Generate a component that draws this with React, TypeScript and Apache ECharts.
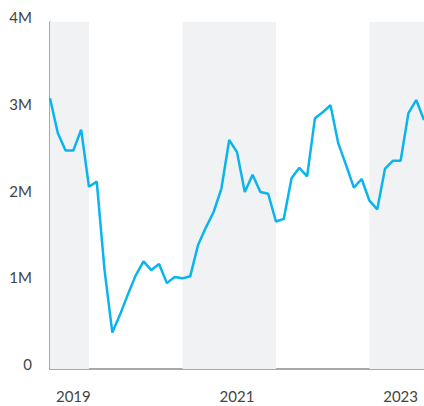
import React, { useEffect, useRef } from "react";
import * as echarts from "echarts";

const months: string[] = [
  "2019-08","2019-09","2019-10","2019-11","2019-12",
  "2020-01","2020-02","2020-03","2020-04","2020-05","2020-06","2020-07","2020-08","2020-09","2020-10","2020-11","2020-12",
  "2021-01","2021-02","2021-03","2021-04","2021-05","2021-06","2021-07","2021-08","2021-09","2021-10","2021-11","2021-12",
  "2022-01","2022-02","2022-03","2022-04","2022-05","2022-06","2022-07","2022-08","2022-09","2022-10","2022-11","2022-12",
  "2023-01","2023-02","2023-03","2023-04","2023-05","2023-06","2023-07","2023-08",
];

const values: number[] = [
  3.12, 2.72, 2.52, 2.52, 2.76, 2.10, 2.16, 1.14, 0.42, 0.63, 0.86, 1.08, 1.24, 1.14, 1.21, 0.99,
  1.06, 1.045, 1.07, 1.43, 1.63, 1.81, 2.08, 2.64, 2.50, 2.04, 2.24, 2.04, 2.02, 1.70,
  1.73, 2.20, 2.32, 2.22, 2.89, 2.96, 3.04, 2.60, 2.35, 2.09, 2.19, 1.94, 1.84, 2.31,
  2.40, 2.40, 2.95, 3.10, 2.87,
].map((v) => v * 1e6);

const shadedRanges: [string, string][] = [
  ["2019-08", "2020-01"],
  ["2021-01", "2022-01"],
  ["2023-01", "2023-08"],
];

const labelMonths: string[] = ["2019-11", "2021-08", "2023-05"];

const yTicks = { min: 0, max: 4e6, interval: 1e6 };

export default function App() {
  const ref = useRef<HTMLDivElement>(null);
  useEffect(() => {
    document.body.style.margin = "0";
    const chart = echarts.init(ref.current!, undefined, { renderer: "svg" });
    const font = "Lato";
    chart.setOption({
      animation: false,
      grid: { left: 50, top: 22, right: 0, bottom: 37 },
      xAxis: {
        type: "category",
        data: months,
        boundaryGap: false,
        axisLine: { lineStyle: { color: "#8c8c8c", width: 1.5 } },
        axisTick: { show: false },
        axisLabel: {
          interval: (idx: number, val: string) => labelMonths.includes(val),
          formatter: (val: string) => val.slice(0, 4),
          color: "#444",
          fontFamily: font,
          fontSize: 15,
          margin: 19,
        },
        splitLine: { show: false },
      },
      yAxis: {
        type: "value",
        min: yTicks.min,
        max: yTicks.max,
        interval: yTicks.interval,
        axisLine: { show: true, lineStyle: { color: "#8c8c8c", width: 1.5 } },
        axisTick: { show: false },
        splitLine: { show: false },
        axisLabel: {
          formatter: (v: number) => (v === 0 ? "0" : v / 1e6 + "M"),
          color: "#444",
          fontFamily: font,
          fontSize: 15,
          margin: 18,
          verticalAlign: "bottom",
          lineHeight: 10,
        },
      },
      series: [
        {
          type: "line",
          data: values,
          symbol: "none",
          lineStyle: { color: "#0ab4ec", width: 2.5 },
          markArea: {
            silent: true,
            itemStyle: { color: "#f1f2f4" },
            data: shadedRanges.map(([a, b]) => [{ xAxis: a }, { xAxis: b }]),
          },
        },
      ],
    });
    return () => chart.dispose();
  }, []);
  return <div ref={ref} style={{ width: 424, height: 406 }} />;
}
